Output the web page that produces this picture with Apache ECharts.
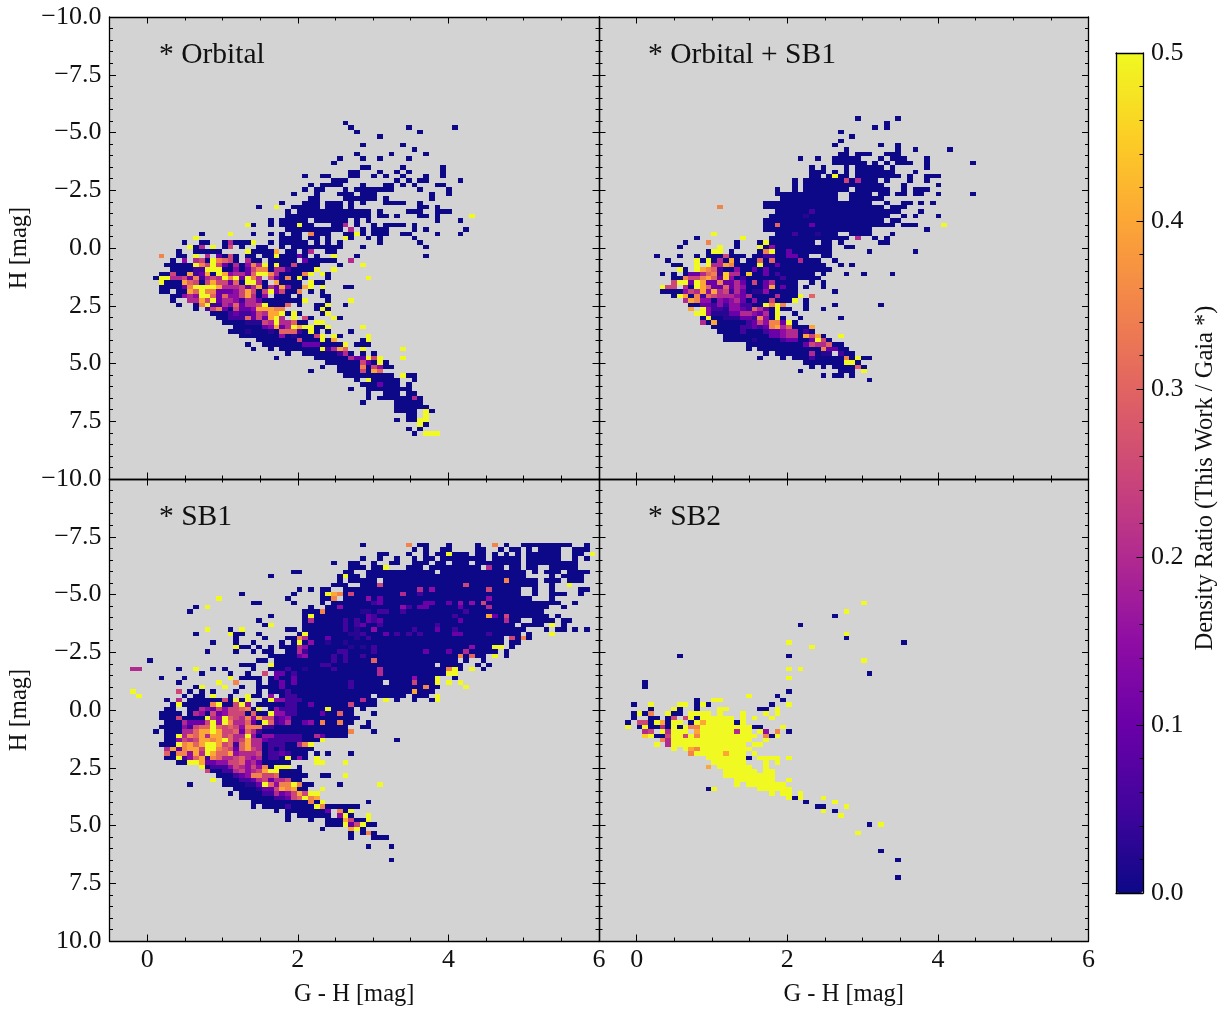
<!DOCTYPE html>
<html><head><meta charset="utf-8">
<script src="https://cdn.jsdelivr.net/npm/echarts@6/dist/echarts.min.js"></script>
<style>html,body{margin:0;padding:0;background:#fff}#c{width:1222px;height:1014px}</style>
</head><body><div id="c"></div>
<script>
// Density ratio, per colour-magnitude bin.
// "row|col:levels from-to": a level digit n means n*0.05, x = 0.025, Y = 0.5, . = empty; from-to = run of level 0.
const binOriginX = -0.075, binWidthX = 0.0763, binOriginY = -5.89, binWidthY = 0.1919;
const panelTitles = ['* Orbital', '* Orbital + SB1', '* SB1', '* SB2'];
const xTicks = [0, 2, 4, 6];
const cbarColors = ['#0d0887','#41049d','#6a00a8','#8f0da4','#b12a90','#cc4778','#e16462','#f2844b','#fca636','#fcce25','#f0f921'];

const orbitalRows = [
"2|35:0","3|36:0 46:0 54:0","4|37:0 48:0","5|41:0","7|38:0 45:0","8|47:0","9|37:0 43:0 49:0","10|34:0 38:0 41:0 46:0","11|33:0",
"12|38-39 45:0 52:0","13|36-37 41:0 44:0 46:0 52:0","14|28:0 31-32 36-37 40:0 42:0 45:0 49:0 52:0","15|33-35 44:0 46:0 48-49 55:0",
"16|29:0 31-34 38:0 42-43 45:0 47:0 51-52","17|28:0 30-31 35:0 37-43 48:0 53:0","18|26:0 30:0 34-36 38-40 50:0 53:0","19|29-30 35-40 42:0 50:0",
"20|24:0 28-30 32-34 36:0 38:0 42-45 48:0","21|20:0 23:Y 26-30 32-34 36:0 48-49 51:0","22|25:0 27-39 41:0 46-48 51:0 52-53","23|25-39 41-42 44:0 48-49 51:0 57:Y",
"24|22:0 24-28 30-35 37:0 39:0 51:0 55:0","25|18:Y 19:0 22:0 24-29 27:Y 33-34 35:4 37:0 40:0 42-45 47:0","26|25-34 36:4 38:0 40-42 47:0 49:0 56:0",
"27|10:0 15:Y 19:0 22:0 24:0 26-27 29:7 30-32 35-36 37:Y 38:0 40-42 45-46 51:0 55:0","28|9:Y 24-27 29-30 32:0 35:Y 36:0 39:0 41:0 47:0",
"29|7:0 10-11 14:0 15:4 16-18 19:Y 22:0 24-28 30:0 32:0 34:0 41:0 48:0","30|8:Y 9:0 10:4 12:Y 14:0 15:5 17:0 20-21 24:0 26-34 38:0 49:0",
"31|6:0 9-13 18:Y 19-22 23:8 25-26 28:0 29:4 32-33","32|3:7 6-7 9:Y 11:4 13:2 14:0 15:5 16:0 18-19 21-22 23:Y 24-26 27:2 28:0 30:0 33:Y 37:0 49:0",
"33|5:0 7:3 9:4 10:5 11:0 12:Y 13:7 14:6 15:5 16:0 18:4 19-20 22-26 28:2 29-33 36:4",
"34|4-8 9:Y 10:7 11:5 12:Y 13:5 14:2 15:0 16:4 17:0 18:3 19:7 20:4 21:Y 22:0 23:Y 24-25 26:5 27-30 34:0 38:Y",
"35|5-8 9:11 11:YY 13:Y 14-15 16:3 17:0 18:2 19:5 20:77 22:0 23:44 25:1 26-29 30:Y 33:Y",
"36|3-4 5:5 6-7 8:8 9:1 10:2 11:8 12:0 13:Y 14:8 15:3 16:4 17:4 18:2 19:6 20:YY 22:7 23:4 24-27 28:7 29:Y 31:Y 32:0",
"37|2:0 3:YY 5:4 6:4 7:5 8:2 9:7 10:1 11:4 12:5 13:4 14:Y 15:7 16:Y 17:2 18:Y 19:7 20:4 22:5 23:2 24:0 25:7 26:0 27:Y 28:0 32:0 39:Y",
"38|3:Y 4-6 7:8 8:6 9:5 10:0 11:5 12:8 13:5 14:5 15:2 16:6 17:0 18:YY 20:4 21:0 23:8 24-27 29:Y 30-31",
"39|3-6 7:2 8:7 9:YYYY 13:8 14:444 17:5 18:2 19:4 20:8 21:0 22:4 23:2 24:8 25:3 26-27 28:8 29:Y 31:Y 35-36",
"40|3-4 6-7 8:8 9:6 10:Y 11:77 13:22 15:2 16:3 17:5 18:8 19:5 20:0 21:5 22:Y 23:2 24:5 25-26 27:7 29:0 31:0",
"41|5-6 7:3 8:4 9:3 10:YY 12:6 13:2 14:6 15:33 17:5 18:8 19:4 20:0 21:3 23-25 27:0 31-32",
"42|5:0 8:4 9:4 10:8 11:5 12:Y 13:2 14:44 16:3 17:1 18:44 20:2 21:0 22-27 28:Y 32:0 36:Y",
"43|6:0 9:0 10:7 11:Y 12:11 14:4 15:3 16:6 17:2 18:4 19:4 20:5 21:Y 22-24 25:6 27:0 30-31 32:Y 35:0",
"44|9:0 11:1 12:5 13:7 14:2 15:0 16:5 17:2 18:2 19:3 20:8 21:88 23:77 30:0 31:Y 32:0",
"45|12-14 15:1 16:2 17:11 19:2 20:5 21:4 22:8 23:8 24:Y 25:0 26:Y 27:0 31:0 32:Y",
"46|13-14 15:111 18:6 19:2 20:5 21:2 22:8 23:Y 24:4 26:Y 28:5 29:0 33:Y 34:0",
"47|14-17 18:xxx 21:5 22:4 23:Y 24:44 26:6 27-28 30:YY","48|16-20 21:2 22:3 23:8 24:2 25:4 26:Y 27:8 28:YY 30-31 32:Y 38:Y",
"49|15-17 18:x 19-21 22:x 23:0 24:6 25:66 27:1 28:0 29:Y 30:0 32:0 36:0","50|17-23 24:3 25:0 26:x 27-29 30:5 31:Y 33:Y 34:0 39:Y",
"51|20-26 27:5 28-30 31:Y 32:0 33:8 38:0 39:Y","52|18:0 21-27 28:222 31-34 35:Y 37-39","53|19:0 22:0 24-30 31:Y 32:1 33:4 34:8 35:6 38:Y 45:Y",
"54|25:0 28-33 34:1 35:4 36:0 38:0 40:0","55|23:0 30-35 36:4 37:22 39:Y 40:5 41:Y 45:Y","56|32-37 38:5 39:2 40:0 41:Y 42:0","57|31:0 34-37 38:7 39:0 40:5 41:3 42-43",
"58|29:0 34-37 38:5 39:0 40:8 41:6","59|35-43 45:Y 46-47","60|37:0 39:Y 40-44 47:0","61|38-40 41:2 42-44 46:0","62|36:0 39-46","63|39:0 42-44 46-47",
"64|39:0 41-46 47:4 48:0","65|38:0 44-46 47-48","66|44-49","67|44-47 49:Y 50:0","68|46-47 49:Y","69|44:0 46-47 48:YY","70|48:Y 49:0","71|46:0 48:0","72|47:0 49:YYY"
];

const orbitalSb1Rows = [
"1|39:0 46:0","2|44:0","3|42:0 44:0","4|36:0","5|38:0","6|36:0","7|35:0 43:0 46:0","8|37:0 46:0 49:0 55:0","9|36-37 39-41 44-46",
"10|29:0 32:0 35-39 43:0 45-47 51:0","11|35-38 39-40 42:0 44:0 46-48 51:0 59:0","12|31:0 33:0 37:0 39-43 45:0 51:0","13|31-33 35:0 37:0 39-45 49:0",
"14|31-32 34:0 35:Y 36-37 39-46 48:0 51-53","15|28:0 30-36 37:5 38:0 39:4 40-42 44:0 48:0 51:0","16|28:0 30-43 47:0 53:0","17|25:0 28:0 30-37 39-44 47:0 49-51",
"18|25-35 38-41 43-44 46-47 49-50 53:0 59:0","19|26-35 38-43","20|23-41 44:0 47-48 50:0 52:0","21|15:7 23-43 45-47","22|25-46 31:1 50:0","23|24-44 30:x 47:0 49:0 53:0",
"24|23-43 45-46","25|23-45 25:6 31:2 47-49 54:Y","26|23-41 51:0","27|14:Y 25-35 28:1 32:x 38-41 45:0","28|11:0 19:Y 24-37 39:4 42:0 44:0",
"29|9:0 13:7 18:0 22:0 23:Y 24-31 33-34 36:0 43-44","30|8:0 15:Y 18:0 22:Y 23:0 24:3 25-34 37-38",
"31|13:0 14:YY 17:0 22:0 23:7 24:Y 25-26 27:2 28-34 41:0 49:0","32|4:0 8:0 11:0 13-15 16:5 17-19 21-22 23:11 25-26 27:22 29-30 33-34",
"33|6:0 11:Y 12:0 13:Y 14:0 15:4 16:0 17:8 18:0 20-21 22:6 23:0 24:6 25-28 29:4 30-32 35:0",
"34|7-8 11:Y 13:Y 14:44 16:8 17:7 18-21 22:Y 23-24 25:2 26-33 36:0 38:0",
"35|8:Y 9:0 11:Y 12:8 13:7 14:6 15:1 16-17 18:3 19-20 21:2 22:0 23:2 24-34",
"36|5:0 7:0 9:0 10:2 11:2 12:4 13:6 14:7 15:1 16:9 17:4 18:4 19:0 20:9 21-22 23:2 24:0 25:1 26-31 33:0 37:0 40:0 45:0",
"37|7-8 9:7 10:55 12:7 13:8 14:6 15:2 16:9 17:3 18:0 19:1 20-25 26:1 27-32",
"38|7:5 8:YY 10:2 11:Y 12:8 13:2 14:2 15:7 16:22 18:4 19:2 20:0 21:5 22:0 23:2 24:4 25-28 31:0 33:0",
"39|5:Y 6:55 9:4 10:0 11:Y 12:8 13:6 14:2 15:2 16:6 17:2 18:4 19:3 20-22 23:2 24:8 25:0 26:2 27-28 30:0 33:0",
"40|5-8 9:3 10:5 11:4 12:8 13:3 14:8 15:4 16:5 17:1 18:4 19:2 20:0 21:xx 23:3 24-28 35:0",
"41|7:0 8:Y 9:8 10:0 11:7 12:1 13:6 14:5 15:444 18:3 19:2 20:4 21-24 25:4 26-28 29:Y 31:6",
"42|9:4 10:8 11:7 12:3 13:3 14:0 15:3 16:2 17:3 18:4 19:2 20:0 21:3 22-23 24:5 25-27 28:Y 30:0",
"43|10-11 12:22 14:1 15:3 16:1 17:33 19:11 21-22 23:Y 24:7 25:Y 26:7 30:0 35:0 43:0",
"44|10:8 12:Y 13:3 14:11 16:x 17:33 19:2 20:1 21:6 22:4 23:2 24:0 25:Y 26-27 30:0 33:0",
"45|11:YY 13:3 14:xxx 17:22 19:4 20:4 21:3 22:2 23:4 24:0 25:Y 28:0",
"46|12:0 13:Y 14-15 16:xxx 19:2 20:2 21:1 22:7 23:3 24:0 25:Y 26:0 29:0 36:0",
"47|12:4 13:0 14:8 15-19 20:1 21:2 22:5 23:3 24:7 25:7 26:2 27:Y 28:0",
"48|14-18 19:1 20:1 21:2 22:1 23:2 24:7 25:8 26:4 27:6 28:0 29-30 31:8",
"49|15-18 19:1 20-22 23:1 24:2 25:2 26:3 27:4 28:4 29:0 30:1 31:0",
"50|16-23 24:2 25:2 26:3 27:4 28:4 29:0 30:8 31:5 32:8 33:0 36:Y","51|16-20 21:x 22-25 26:1 27:2 28:2 29-30 31:2 32:Y 33:5 34:0",
"52|20-29 30:2 31:5 32:4 33:4 34:6 35-36","53|20:0 22-32 33:7 34:2 35:2 36-37","54|23:0 25-30 31:4 32:0 33:x 34:x 36:1 37-38",
"55|22:0 26:0 28-30 31:1 32-36 37:7 38:0 39:Y 40-41","56|30-36 37:YY 39:0","57|31:0 33:0 35-38 39:6 40:0","58|29:0 36-38 40:Y","59|33:0 35-36 38:0","60|41:0"
];

const sb1Rows = [
"-7|38:0 46:7 48-49 53:0 58:0 61:7 63:0 66-74 77:0","-6|47:0 49:0 52-53 58-59 62:0 64-65 67:0 69-72 75-77",
"-5|41-42 46:0 49:0 51-52 53:Y 54-56 58-59 61:0 63:0 65:0 67-72 75-76 78:Y","-4|38:0 41:0 44:0 47:0 49-50 52-59 61-64 65:0 67-72 75:0 77:0",
"-3|33:0 36-37 40:0 43-44 47-49 51-52 54-56 58-65 67-75","-2|36-38 40-41 42:Y 46-48 50-58 60:4 61-62 64-65 67-68 71-75",
"-1|26-27 35-36 39-50 52-66 68:0 70:0 71-72 74-77","0|22:0 34:0 35:Y 36-37 39-66 71:0 73-76","1|34:0 36-40 42-62 63:7 64-68 70-72 74-76",
"2|33-35 38-40 41:5 42-55 56:5 57-68 71:0 74:Y","3|27:0 29:0 31-32 35-47 48:4 49:0 50:3 51-59 60:5 61-65 68:0 71:0 76-77",
"4|17:0 26:0 31:0 32:Y 33:8 34:7 35:0 36:5 37-44 45:4 46-47 48:1 49-65 68:0 71-73 76:0","5|13:Y 25:0 31-32 33:7 35-38 39:3 40:0 41:2 42-59 60:3 61-67 71:0",
"6|19-20 26:0 31:0 33-71 40:12 49:22 53:2 55:3 57:3 59:5 72:0 75:0","7|9:0 11:Y 29:0 32-33 34:3 35-70 45:31 48:22 55:2 60:4 73:0",
"8|8:0 28-30 31:7 32-69 38:xx 41:11 45:1 56:1","9|22:0 28:0 29:Y 30-70 39:2 40:1 54:1 60:8 61:2 63:5 72:0",
"10|20:0 28:0 29:4 30-65 35:1 37:1 39:2 40:1 41:2 55:2 63:4 68-71 73-74","11|21:0 22:Y 28-64 35:1 37:1 38:2 41:1 51:1 66-69 71:Y 73:0",
"12|11:Y 15:0 17:Y 25-26 28-64 35:1 37:x 40:3 47:1 51:2 54:1 65-66 70:0 72-73 75:0 77:0",
"13|9:0 15:Y 16-17 20:0 27:0 28:Y 29-64 36:xx 38:1 42:2 44:1 46:1 48:1 54:22 60:1 65:0 67:0 71:Y",
"14|16:0 21:0 25-26 27:7 28:4 29-62 32:2 37:x 39:1 64:5 65:0 66:7 67:0","15|12:0 16:0 19:0 24:0 26:0 27:Y 28:0 29:3 30-62 32:x 35:x 64-65",
"16|16:Y 17-18 20:0 22:0 24-26 27:4 28:3 29-60 36:x 38:x 40:1 57:3 61:YY 64:0","17|11:0 16:0 19:0 21-22 25-26 27:4 28:1 29-61 34:11 40:1 49:2 53:2 56:4 63:0",
"18|22-26 27:23 29-57 33:1 35:1 38:1 55:7 57:6 58-59 61:Y 63:0","19|1:0 20-21 23-54 33:1 35:1 40:6 56:0 59:0","20|17-19 22:Y 23-55 31:11 51:. 58:0 60:0",
"21|-2:44 6:0 9:Y 12:0 14:0 19:0 22-24 25:1 26-52 28:x 33:1 41:4 53:7 54:Y 55:0 57:Y 59:0","22|10:0 15:0 18:0 21:5 23:22 25-52 26:1 41:4 53:YY",
"23|3:0 7:0 15:Y 17-20 22-50 23:2 26:2 47:3 51:Y 54:0","24|6:0 13:Y 16:7 20:0 22-23 24:2 25-50 26:2 36:1 42:. 47:5 51:Y 53:Y 55:Y",
"25|9:0 10:Y 14:Y 17:0 20-23 24:2 25-50 36:1 49:7 51:0 56:Y","26|-2:Y 6:5 8:0 10:0 12:0 16:0 20:0 22-50 25:1 47:8",
"27|-1:Y 7:0 9-10 12:Y 15:0 18:Y 19-20 22:3 24-45 25:11 40:. 47-49 51:Y","28|4:0 6:4 8-13 14:5 15:0 16:Y 17:0 18:Y 21:0 22:Y 23:33 25:111 28-40 38:4 42:Y 44:0 47:0 50:0 51:Y",
"29|5:0 6:Y 7-11 12:7 13:Y 14-15 16:5 17:Y 18:3 20-24 25:11 27-35 29:2 36:5 37-40","30|4-5 8-9 10:4325355670Y 22:03111 27-36 32:Y 38:0",
"31|3-6 8:04305235550600Y3311 27-36 31:2 34:6 40:0","32|3:00050000Y43Y65473855123 26-37","33|4:00042225Y3Y744620Y6124 26:002307 32:00700 39:0",
"34|3:000031566Y6565377711 23-35 38-39","35|2:0 4:000 7:44688Y85562641 21-35 36:7 40:0","36|4:00Y476848856 44Y30331111100420000",
"37|4:0035458878Y645844211111 1000Y 44:0","38|3:000Y7868YY856168440111 0047Y","39|4:4827885YY76526854 0101 00000","40|4:6077384Y86683444 50 1121 000 30:0 32:0 36:0",
"41|4:00Y13681764456 4340 110Y030 30:Y","42|6:00YY822335 5634 2 00000 30:YY 35:Y","43|10:Y0111354353 70YYY 27:0","44|11:500114534 58YY 24-27","45|13-15 16:12377556 7 24-28 31-32 35:Y",
"46|12:Y 14-16 17:1124 21:52445 26-27","47|8:0 14-17 18:xx 20:2 21:Y 22:637 25:7 26:Y 27:7 28-29 34:0 41:Y","48|16-19 20:x 21:22 23:5 24:878 27-28 31:Y",
"49|15:0 17-20 21:11 23:4 24:235 27:858 29:YY","50|17-22 23:11 25:2 26:56 28:Y 29:78","51|19-28 29:7 30:0 31:Y 39:0","52|19:0 21-24 25:1 26-29 30:Y 31:7 32-37",
"53|23:0 25-31 32:2 34:7 35:0 36:Y","54|25:0 27-32 34:3 35:Y 36:0 39:Y","55|25:0 29:0 32-34 35:8 36:5 37-38 39:Y","56|32-34 35:Y 36:2 37:5 38:Y 39-40",
"57|31:0 36:8 37:Y 38:0","58|36:0 38:0 39:7 40:0","59|36:0 40-42","61|39:0 43:0","64|43:0"
];

const sb2Rows = [
"6|40:Y","8|37:Y","9|35:0","11|29:0","13|37:Y","14|37:0","15|27:Y 47:0","16|31:Y","18|8:0 27:0","19|40:Y","21|27:Y 29:Y","22|41:0","23|27:Y","24|2:0","25|2:0","26|27:0",
"27|20:Y 25:0","28|11:0 14:YY 26:0","29|0:0 3:Y 8:YY 11:0 12:Y 13:0 24:0 27:Y","30|3:0 7:Y 8:0 11:0 15:YY 22-23 25:Y",
"31|0:0 1:Y 2:0 3:7 6:Y 7-8 10:YYYY 15:Y 19:Y 23:Y 25:Y","32|0:0 3-4 6:0 7:5 9:5 10:Y 11:0 12:YYYYYY 19:Y 21:Y 24:Y",
"33|-1:0 1:55 3:0 4:Y 5:8 6:0 7:YY 10:0 11:Y 12:8 13:YYYYY 18:0 19:Y","34|-1:Y 1:0 2:Y 3-4 5:4 6:0 7:Y 8:0 9:Y 10:7 11:7 12:YYYYYYYYY 21-22 26:Y",
"35|2:4 3:5 5:Y 6:4 7:YYY 11:8 12:YYYYYY 18:4 19:YY 22:Y 23:3 25:7 27:0","36|2:9 3:Y 4-5 6:5 7:YY 9:5 10:Y 11:7 12:YYYYYYYYYY 23:7 24:0 25:Y",
"37|5:7 6:4 7:YYYYYYYYYYYYYY 23:Y","38|4:Y 6:4 7:YYYYYYYYYYYYY 21:YY","39|7:Y 9:Y 10:8 11:7 12:YYYYYYYYY","40|10:7 11:YYYYY 16:8 17:YYY 21:Y",
"41|13:YYYYYYY 20:0 22:YYYY 27:Y","42|14:YYYYYY 23:Y 25:Y","43|13:8 15:YYYYYY 23:Y","44|16:YYYYYY 23:YY","45|16:YYYYYYYYY","46|18:YYYYYYY 27:Y",
"47|18:Y 20:YYYYYYY","48|13:0 14:Y 22:YYYYYY","49|24:Y 26:YY 29:Y","50|27:Y 28:0 29:Y 33:Y","51|30:0 35:Y","52|32-33 37:Y","53|33:Y 35:0","54|36:Y","56|41:0 43:Y","58|39:Y","62|43:0","64|46:0","68|46:0"
];

const panelRows = [orbitalRows, orbitalSb1Rows, sb1Rows, sb2Rows];

function levelValue(ch) { return ch === 'x' ? 0.025 : ch === 'Y' ? 0.5 : Number(ch) * 0.05; }
function setRun(cells, col, row, levels) {
  for (const ch of levels) {
    const key = col + ',' + row;
    if (ch === '.') cells.delete(key); else cells.set(key, levelValue(ch));
    col++;
  }
  return col;
}
function decode(rows) {
  const cells = new Map();
  rows.forEach(function (line) {
    const parts = line.split('|');
    const row = Number(parts[0]);
    let col = 0;
    parts[1].trim().split(/\s+/).forEach(function (tok) {
      let m = tok.match(/^(-?\d+)-(-?\d+)$/);
      if (m) { for (let c = +m[1]; c <= +m[2]; c++) cells.set(c + ',' + row, 0); return; }
      m = tok.match(/^(-?\d+):(.+)$/);
      if (m) col = setRun(cells, +m[1], row, m[2]);
      else col = setRun(cells, col, row, tok);
    });
  });
  const out = [];
  cells.forEach(function (v, k) {
    const p = k.split(',');
    out.push([binOriginX + Number(p[0]) * binWidthX, binOriginY + Number(p[1]) * binWidthY, v]);
  });
  return out;
}

function renderCell(params, api) {
  const x = api.value(0), y = api.value(1);
  const a = api.coord([x, y]), b = api.coord([x + binWidthX, y + binWidthY]);
  const x0 = Math.round(a[0]), y0 = Math.round(a[1]), x1 = Math.round(b[0]), y1 = Math.round(b[1]);
  return { type: 'rect', shape: { x: x0, y: y0, width: x1 - x0, height: y1 - y0 }, style: { fill: api.visual('color') } };
}

const FONT = 'Liberation Serif';
const LINE = { show: true, onZero: false, lineStyle: { color: '#000', width: 1.3 } };
const NOLINE = { show: false, onZero: false };
function fmtY(v) { return (v < 0 ? '\u2212' : '') + Math.abs(v).toFixed(1); }

const grids = [
  { left: 109.5, top: 17, width: 489.5, height: 462 },
  { left: 599, top: 17, width: 489.5, height: 462 },
  { left: 109.5, top: 479, width: 489.5, height: 462 },
  { left: 599, top: 479, width: 489.5, height: 462 }
];
const xAxis = [], yAxis = [], series = [], graphic = [];
const titleY = [55, 517], titleX = [159, 648];
grids.forEach(function (g, p) {
  const isBottom = p >= 2, isLeft = p % 2 === 0;
  const firstX = xAxis.length, firstY = yAxis.length;
  ['bottom', 'top'].forEach(function (pos) {
    const labelled = pos === 'bottom' && isBottom;
    xAxis.push({ type: 'value', gridIndex: p, position: pos, min: -0.5, max: 6, z: 5,
      axisLine: LINE, splitLine: { show: false },
      axisTick: { show: true, inside: true, length: 6.5, customValues: xTicks, lineStyle: { color: '#000', width: 1 } },
      axisLabel: labelled ? { show: true, customValues: xTicks, margin: 6, color: '#111', fontFamily: FONT, fontSize: 26 } : { show: false },
      name: labelled ? 'G - H [mag]' : '', nameLocation: 'middle', nameGap: 41,
      nameTextStyle: { fontFamily: FONT, fontSize: 24.5, color: '#111' } });
    xAxis.push({ type: 'value', gridIndex: p, position: pos, min: -0.5, max: 6, interval: 0.5, z: 5,
      axisLine: NOLINE, splitLine: { show: false }, axisLabel: { show: false },
      axisTick: { show: true, inside: true, length: 3.5, lineStyle: { color: '#000', width: 1 } } });
  });
  ['left', 'right'].forEach(function (pos) {
    const labelled = pos === 'left' && isLeft;
    yAxis.push({ type: 'value', gridIndex: p, position: pos, inverse: true, min: -10, max: 10, interval: 2.5, z: 5,
      axisLine: LINE, splitLine: { show: false },
      axisTick: { show: true, inside: true, length: 6.5, lineStyle: { color: '#000', width: 1 } },
      minorTick: { show: true, splitNumber: 5, length: 3.5, lineStyle: { color: '#000', width: 1 } },
      minorSplitLine: { show: false },
      axisLabel: labelled ? { show: true, margin: 8, padding: [2, 0, 0, 0], color: '#111', fontFamily: FONT, fontSize: 26, formatter: fmtY, showMaxLabel: p === 2, hideOverlap: false } : { show: false },
      name: labelled ? 'H [mag]' : '', nameLocation: 'middle', nameGap: 77,
      nameTextStyle: { fontFamily: FONT, fontSize: 24.5, color: '#111' } });
  });
  series.push({ type: 'custom', renderItem: renderCell, xAxisIndex: firstX, yAxisIndex: firstY,
    encode: { x: 0, y: 1 }, data: decode(panelRows[p]), clip: true, z: 2, animation: false, silent: true });
  graphic.push({ type: 'text', x: titleX[p % 2], y: titleY[isBottom ? 1 : 0], z: 10,
    style: { text: panelTitles[p], fontFamily: FONT, fontSize: 29.5, fill: '#111', verticalAlign: 'middle' } });
});

// colour bar frame, ticks and labels
const cbarGrid = grids.length;
grids.push({ left: 1116, top: 53, width: 27, height: 840 });
xAxis.push({ type: 'value', gridIndex: cbarGrid, position: 'top', min: 0, max: 1, z: 8, axisLine: LINE, axisTick: { show: false }, axisLabel: { show: false }, splitLine: { show: false } });
xAxis.push({ type: 'value', gridIndex: cbarGrid, position: 'bottom', min: 0, max: 1, z: 8, axisLine: LINE, axisTick: { show: false }, axisLabel: { show: false }, splitLine: { show: false } });
yAxis.push({ type: 'value', gridIndex: cbarGrid, position: 'left', min: 0, max: 0.5, z: 8, axisLine: LINE, axisTick: { show: false }, axisLabel: { show: false }, splitLine: { show: false } });
yAxis.push({ type: 'value', gridIndex: cbarGrid, position: 'right', min: 0, max: 0.5, interval: 0.1, z: 8,
  axisLine: LINE, splitLine: { show: false },
  axisTick: { show: true, inside: true, length: 6.5, lineStyle: { color: '#000', width: 1 } },
  minorTick: { show: true, splitNumber: 5, length: 3.5, lineStyle: { color: '#000', width: 1 } },
  axisLabel: { show: true, margin: 8, padding: [2, 0, 0, 0], color: '#111', fontFamily: FONT, fontSize: 26, formatter: function (v) { return v.toFixed(1); } },
  name: 'Density Ratio (This Work / Gaia *)', nameLocation: 'middle', nameRotate: 90, nameGap: 50,
  nameTextStyle: { fontFamily: FONT, fontSize: 24.5, color: '#111', padding: [0, 10, 0, 0] } });

grids.forEach(function (g, i) {
  g.show = i < 4; g.backgroundColor = '#d3d3d3'; g.borderWidth = 0; g.containLabel = false;
});

const chart = echarts.init(document.getElementById('c'), null, { renderer: 'canvas' });
chart.setOption({
  animation: false, backgroundColor: '#fff',
  grid: grids, xAxis: xAxis, yAxis: yAxis, series: series, graphic: graphic,
  visualMap: { type: 'continuous', show: true, min: 0, max: 0.5, dimension: 2, seriesIndex: [0, 1, 2, 3],
    left: 1116, top: 53, itemWidth: 27, itemHeight: 840, padding: 0, calculable: false, realtime: false, text: [], showLabel: false, z: 1,
    inRange: { color: cbarColors }, hoverLink: false }
});
</script>
</body></html>
